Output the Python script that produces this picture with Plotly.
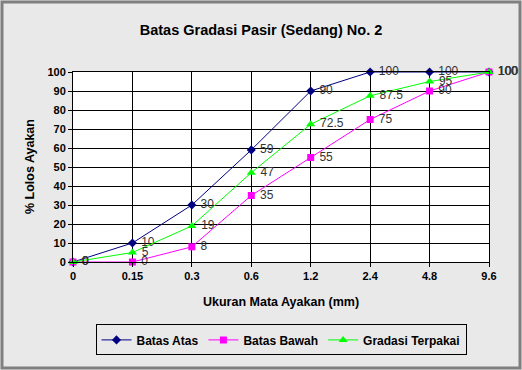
import plotly.graph_objects as go

categories = ["0", "0.15", "0.3", "0.6", "1.2", "2.4", "4.8", "9.6"]
batas_atas = [0, 10, 30, 59, 90, 100, 100, 100]
batas_bawah = [0, 0, 8, 35, 55, 75, 90, 100]
gradasi_terpakai = [0, 5, 19, 47, 72.5, 87.5, 95, 100]

W, H = 522, 370
L, R, T, B = 73, 33, 72, 108
xi = list(range(len(categories)))

def fmt(v):
    return "\u00a0" + ("%g" % v)

fig = go.Figure()
series = [
    ("Batas Atas", batas_atas, "#000080", "diamond", 7),
    ("Batas Bawah", batas_bawah, "#ff00ff", "square", 7),
    ("Gradasi Terpakai", gradasi_terpakai, "#00ff00", "triangle-up", 8),
]
for name, vals, col, sym, sz in series:
    fig.add_trace(go.Scatter(
        x=xi, y=vals, name="<b>%s</b>" % name, mode="lines+markers+text",
        line=dict(color=col, width=1),
        marker=dict(color=col, symbol=sym, size=sz),
        text=[fmt(v) for v in vals], textposition="middle right",
        textfont=dict(family="Liberation Sans, Arial", size=12, color="#333333"),
        cliponaxis=False,
    ))

fig.update_layout(
    width=W, height=H,
    margin=dict(l=L, r=R, t=T, b=B),
    paper_bgcolor="#e9e9e9",
    plot_bgcolor="#ffffff",
    font=dict(family="Liberation Sans, Arial", size=11, color="#000000"),
    title=dict(text="<b>Batas Gradasi Pasir (Sedang) No. 2</b>", x=0.5, xanchor="center",
               y=1 - 30 / H, yanchor="middle", font=dict(size=14.5)),
    showlegend=True,
    legend=dict(orientation="h", x=0.5, xanchor="center", y=-0.41, yanchor="middle",
                bordercolor="#000000", borderwidth=1, bgcolor="rgba(0,0,0,0)",
                font=dict(size=12, family="Liberation Sans, Arial"),
                traceorder="normal", itemwidth=30),
    xaxis=dict(range=[0, len(categories) - 1], tickvals=xi, ticktext=["<b>%s</b>" % c for c in categories],
               showgrid=True, gridcolor="#000000", gridwidth=1,
               showline=True, linecolor="#000000", linewidth=1, mirror=True,
               ticks="outside", ticklen=4, tickcolor="#000000", zeroline=False),
    yaxis=dict(range=[0, 100], tickvals=list(range(0, 101, 10)),
               ticktext=["<b>%d</b>" % v for v in range(0, 101, 10)],
               showgrid=True, gridcolor="#000000", gridwidth=1,
               showline=True, linecolor="#000000", linewidth=1, mirror=True,
               ticks="outside", ticklen=4, tickcolor="#000000", zeroline=False),
    annotations=[
        dict(text="<b>Ukuran Mata Ayakan (mm)</b>", xref="paper", yref="paper",
             x=0.5, y=-40 / 190, xanchor="center", yanchor="middle", showarrow=False,
             font=dict(size=12.5)),
        dict(text="<b>% Lolos Ayakan</b>", xref="paper", yref="paper",
             x=-43 / 416, y=0.5, xanchor="center", yanchor="middle", showarrow=False,
             textangle=-90, font=dict(size=12.5)),
    ],
    shapes=[
        dict(type="rect", xref="paper", yref="paper",
             x0=-(L - 2) / 416, x1=1 + (R - 2) / 416,
             y0=-(B - 2) / 190, y1=1 + (T - 2) / 190,
             line=dict(color="#808080", width=3), fillcolor="rgba(0,0,0,0)", layer="below"),
    ],
)

fig.write_html("out.html")
